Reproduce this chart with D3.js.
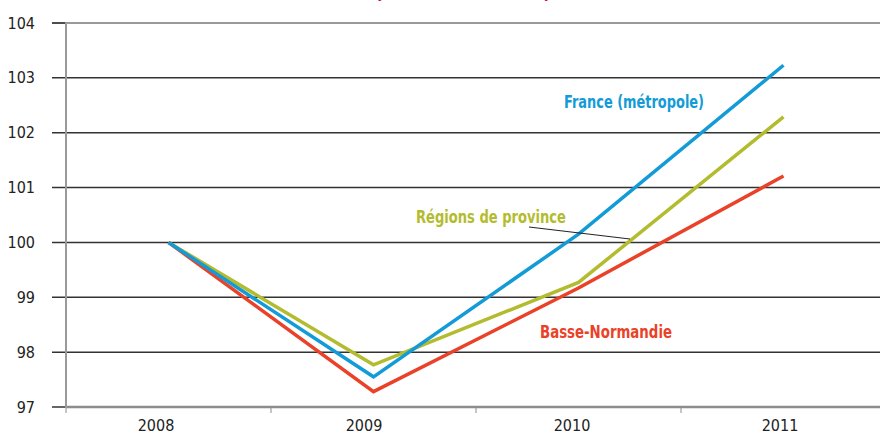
<!DOCTYPE html>
<html>
<head>
<meta charset="utf-8">
<script src="https://cdn.jsdelivr.net/npm/d3@7"></script>
<style>
  body { margin: 0; background: #fff; }
  svg { display: block; font-family: "Liberation Sans Narrow", "DejaVu Sans Condensed", "Liberation Sans", sans-serif; }
</style>
</head>
<body>
<div id="chart"></div>
<script>
// Data: index base 100 in 2008
var years = ["2008", "2009", "2010", "2011"];
var france = [100, 97.55, 100.15, 103.23];
var regions = [100, 97.77, 99.27, 102.29];
var basseNormandie = [100, 97.28, 99.17, 101.21];
var yTicks = [97, 98, 99, 100, 101, 102, 103, 104];

var width = 880, height = 435;

var svg = d3.select("#chart").append("svg")
    .attr("width", width)
    .attr("height", height);

// Scales
var x = d3.scaleBand().domain(years).range([66, 886]).padding(0);
var xLabel = d3.scalePoint().domain(years).range([156, 780]);
var y = d3.scaleLinear().domain([97, 104]).range([407, 23]);

// Title (cut at the top of the frame)
svg.append("text")
    .attr("x", 375)
    .attr("y", -1)
    .attr("fill", "#d4006e")
    .attr("font-size", 18)
    .attr("font-weight", "bold")
    .attr("textLength", 176)
    .attr("lengthAdjust", "spacingAndGlyphs")
    .text("(base 100 en 2008)");

// Horizontal gridlines + left ticks
svg.append("g").selectAll("line")
    .data(yTicks.filter(function(d) { return d > 97; }))
    .enter().append("line")
    .attr("x1", 52)
    .attr("x2", width)
    .attr("y1", function(d) { return y(d); })
    .attr("y2", function(d) { return y(d); })
    .attr("stroke", function(d) { return d === 104 ? "#9a9a9a" : "#333"; })
    .attr("stroke-width", function(d) { return d === 104 ? 2 : 1.5; });

// the tick part of the top line is dark
svg.append("line")
    .attr("x1", 52).attr("x2", 66)
    .attr("y1", y(104)).attr("y2", y(104))
    .attr("stroke", "#333").attr("stroke-width", 1.5);

// Y tick labels
svg.append("g").selectAll("text")
    .data(yTicks)
    .enter().append("text")
    .attr("x", 35)
    .attr("y", function(d) { return y(d); })
    .attr("dy", "0.35em")
    .attr("text-anchor", "end")
    .attr("font-size", 16)
    .attr("fill", "#222")
    .text(function(d) { return d; });

// bottom left tick
svg.append("line")
    .attr("x1", 52).attr("x2", 66)
    .attr("y1", y(97)).attr("y2", y(97))
    .attr("stroke", "#333").attr("stroke-width", 1.5);

// X axis (gray) and band boundary ticks
svg.append("line")
    .attr("x1", 66).attr("x2", width)
    .attr("y1", y(97)).attr("y2", y(97))
    .attr("stroke", "#8c8c8c").attr("stroke-width", 2.5);

svg.append("g").selectAll("line")
    .data(years)
    .enter().append("line")
    .attr("x1", function(d) { return x(d); })
    .attr("x2", function(d) { return x(d); })
    .attr("y1", y(97))
    .attr("y2", y(97) + 6)
    .attr("stroke", "#8c8c8c")
    .attr("stroke-width", 1);

// Y axis line (gray)
svg.append("line")
    .attr("x1", 66).attr("x2", 66)
    .attr("y1", y(104) - 1).attr("y2", y(97) + 1)
    .attr("stroke", "#9a9a9a").attr("stroke-width", 2);

// X labels
svg.append("g").selectAll("text")
    .data(years)
    .enter().append("text")
    .attr("x", function(d) { return xLabel(d); })
    .attr("y", 431)
    .attr("text-anchor", "middle")
    .attr("font-size", 16)
    .attr("fill", "#222")
    .text(function(d) { return d; });

// Lines
var line = d3.line()
    .x(function(d, i) { return x(years[i]) + x.bandwidth() / 2; })
    .y(function(d) { return y(d); });

var series = [
    { name: "Régions de province", values: regions, color: "#b3bc2e" },
    { name: "Basse-Normandie", values: basseNormandie, color: "#ea4129" },
    { name: "France (métropole)", values: france, color: "#139bd7" }
];

svg.append("g").selectAll("path")
    .data(series)
    .enter().append("path")
    .attr("d", function(d) { return line(d.values); })
    .attr("fill", "none")
    .attr("stroke", function(d) { return d.color; })
    .attr("stroke-width", 3.5)
    .attr("stroke-linejoin", "miter");

// Leader line for "Régions de province"
svg.append("line")
    .attr("x1", 529).attr("y1", 227)
    .attr("x2", 630).attr("y2", 239)
    .attr("stroke", "#222").attr("stroke-width", 1);

// Series labels
var labels = [
    { text: "France (métropole)", x: 564, y: 108, w: 140, color: "#139bd7" },
    { text: "Régions de province", x: 416, y: 223, w: 150, color: "#b3bc2e" },
    { text: "Basse-Normandie", x: 540, y: 338, w: 132, color: "#ea4129" }
];

svg.append("g").selectAll("text")
    .data(labels)
    .enter().append("text")
    .attr("x", function(d) { return d.x; })
    .attr("y", function(d) { return d.y; })
    .attr("fill", function(d) { return d.color; })
    .attr("font-size", 18)
    .attr("font-weight", "bold")
    .attr("textLength", function(d) { return d.w; })
    .attr("lengthAdjust", "spacingAndGlyphs")
    .text(function(d) { return d.text; });
</script>
</body>
</html>
